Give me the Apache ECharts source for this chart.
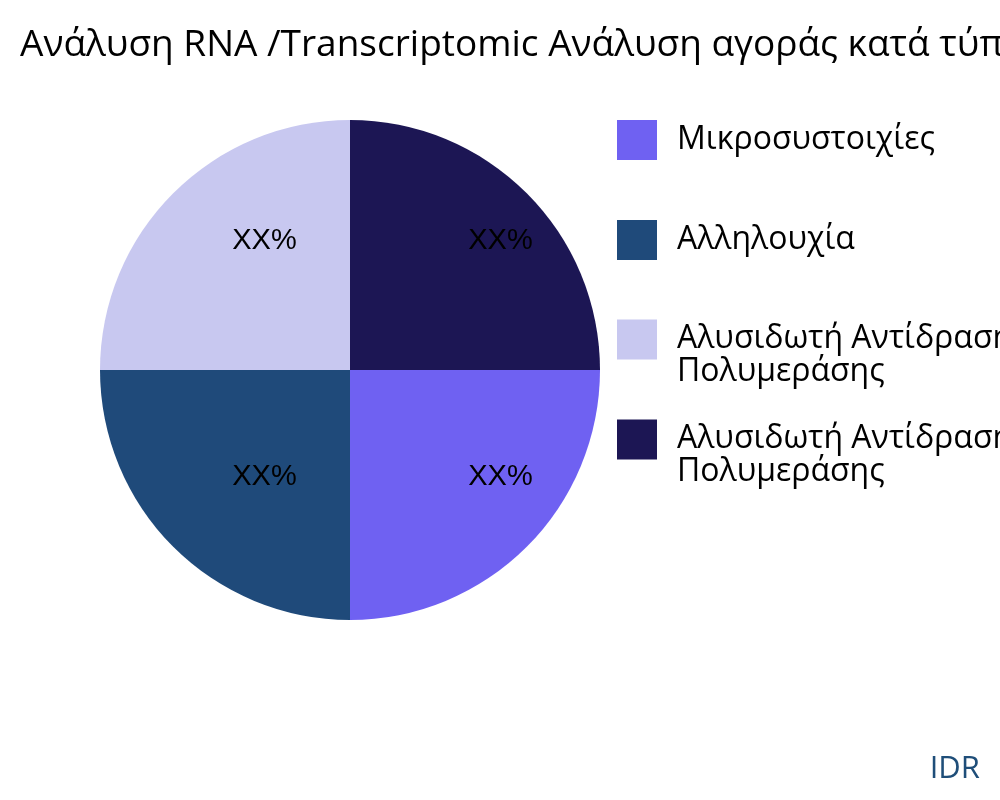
<!DOCTYPE html>
<html><head><meta charset="utf-8">
<script src="https://cdn.jsdelivr.net/npm/echarts@6/dist/echarts.min.js"></script>
<style>html,body{margin:0;padding:0;background:#fff}#c{width:1000px;height:800px}</style>
</head><body><div id="c"></div>
<script>
const titleText = 'Ανάλυση RNA /Transcriptomic Ανάλυση αγοράς κατά τύπο προϊόντος';
const categories = ['Μικροσυστοιχίες', 'Αλληλουχία', 'Αλυσιδωτή Αντίδραση\nΠολυμεράσης', 'Αλυσιδωτή Αντίδραση\nΠολυμεράσης '];
const values = [25, 25, 25, 25];
const labels = ['XX%', 'XX%', 'XX%', 'XX%'];
const colors = ['#6f61f2', '#1f4a7a', '#c8c8f0', '#1c1654'];
const labelOffsets = [[60, 16], [5, 16], [5, -38], [60, -38]];
const legendTops = [120, 220, 291, 391];

const chart = echarts.init(document.getElementById('c'));
chart.setOption({
  animation: false,
  backgroundColor: '#fff',
  title: [{
    text: titleText, left: 15, top: 22,
    textStyle: { fontFamily: 'Open Sans', fontSize: 37, fontWeight: 'normal', color: '#000' }
  }, {
    text: 'IDR', right: 15, bottom: 10,
    textStyle: { fontFamily: 'Open Sans', fontSize: 31, fontWeight: 'normal', color: '#1f4e79' }
  }],
  legend: categories.map((n, i) => ({
    orient: 'vertical', left: 617, top: legendTops[i], padding: 0,
    itemWidth: 40, itemHeight: 40,
    icon: 'rect',
    data: [n],
    formatter: name => (name.indexOf('\n') >= 0 ? '{s| }\n' + name : name),
    textStyle: {
      fontFamily: 'Open Sans', fontSize: 32, color: '#000', lineHeight: 33,
      padding: [0, 0, 0, 15],
      rich: { s: { fontSize: 10, lineHeight: 31 } }
    }
  })),
  series: [{
    type: 'pie',
    center: [350, 370],
    radius: [0, 250],
    startAngle: 0,
    clockwise: true,
    silent: true,
    label: { show: true, position: 'inside', fontFamily: 'Liberation Sans', fontSize: 29, color: '#000' },
    labelLine: { show: false },
    data: categories.map((n, i) => ({
      name: n, value: values[i],
      itemStyle: { color: colors[i] },
      label: { formatter: labels[i], offset: labelOffsets[i] }
    }))
  }]
});
</script></body></html>
